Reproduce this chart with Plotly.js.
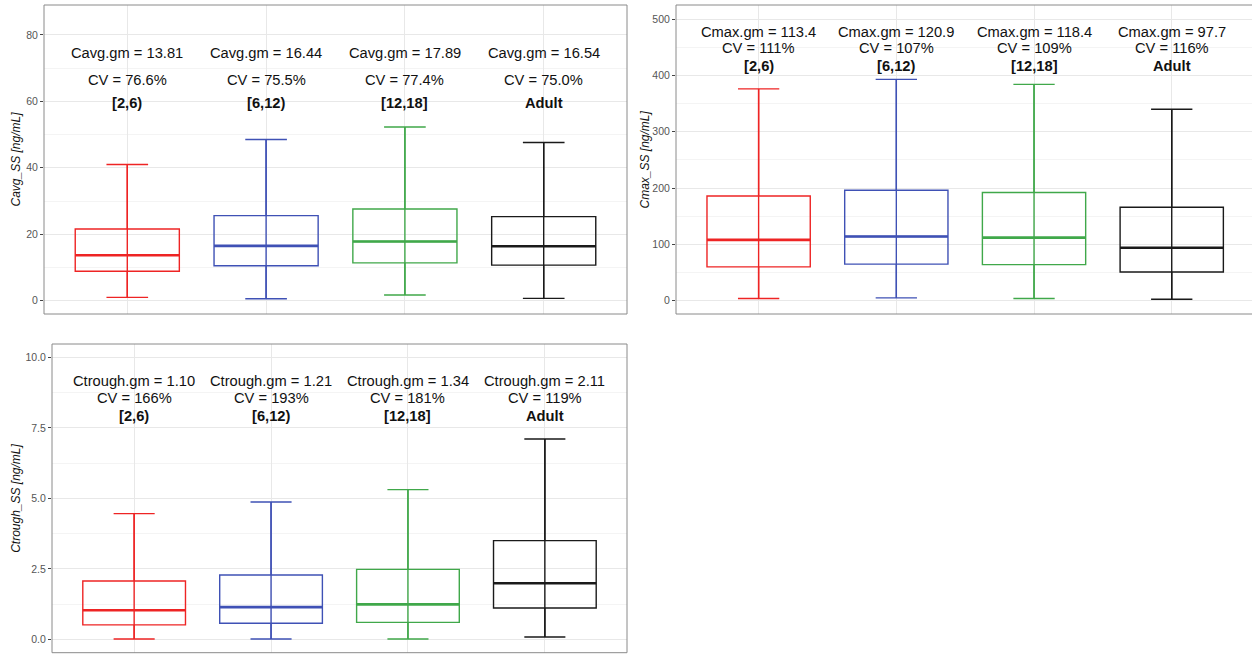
<!DOCTYPE html>
<html>
<head>
<meta charset="utf-8">
<script src="https://cdn.plot.ly/plotly-3.0.1.min.js"></script>
<style>html,body{margin:0;padding:0;background:#fff;overflow:hidden}#chart{width:1252px;height:654px}</style>
</head>
<body>
<div id="chart"></div>
<script>
// ---------- data ----------
const groups = ['[2,6)', '[6,12)', '[12,18]', 'Adult'];
const groupPos = [1, 2, 3, 4];

const cavgLow  = [1.0, 0.6, 1.7, 0.7];
const cavgQ1   = [8.85, 10.5, 11.4, 10.7];
const cavgMed  = [13.7, 16.5, 17.8, 16.4];
const cavgQ3   = [21.6, 25.6, 27.6, 25.3];
const cavgHigh = [41.0, 48.5, 52.3, 47.6];
const cavgGm   = ['13.81', '16.44', '17.89', '16.54'];
const cavgCV   = ['76.6%', '75.5%', '77.4%', '75.0%'];

const cmaxLow  = [4, 5, 4, 2.5];
const cmaxQ1   = [60, 65, 64, 51];
const cmaxMed  = [108, 114, 112, 94];
const cmaxQ3   = [186, 196, 192, 166];
const cmaxHigh = [376, 393, 384, 340];
const cmaxGm   = ['113.4', '120.9', '118.4', '97.7'];
const cmaxCV   = ['111%', '107%', '109%', '116%'];

const ctrLow   = [0.01, 0.01, 0.01, 0.08];
const ctrQ1    = [0.51, 0.57, 0.60, 1.11];
const ctrMed   = [1.03, 1.14, 1.24, 1.99];
const ctrQ3    = [2.07, 2.28, 2.48, 3.50];
const ctrHigh  = [4.46, 4.87, 5.31, 7.11];
const ctrGm    = ['1.10', '1.21', '1.34', '2.11'];
const ctrCV    = ['166%', '193%', '181%', '119%'];

// ---------- styles ----------
const colors = ['#EE2424', '#3F51B5', '#40A84A', '#1a1a1a'];
const FONT = 'Liberation Sans, Arial, Helvetica, sans-serif';
const W = 1252, H = 654;
const BOXW = 0.75;

const traces = [];
const annotations = [];

function addPanel(ax, low, q1, med, q3, high, gm, cv, prefix, textY) {
  const xa = 'x' + (ax === 1 ? '' : ax), ya = 'y' + (ax === 1 ? '' : ax);
  for (let i = 0; i < groups.length; i++) {
    traces.push({
      type: 'box', x: [groupPos[i]], q1: [q1[i]], median: [med[i]], q3: [q3[i]],
      lowerfence: [low[i]], upperfence: [high[i]], width: BOXW, whiskerwidth: 0.4,
      line: {color: colors[i], width: 1.4}, fillcolor: 'rgba(0,0,0,0)',
      boxpoints: false, xaxis: xa, yaxis: ya, showlegend: false, hoverinfo: 'skip'
    });
    traces.push({
      type: 'scatter', mode: 'lines', x: [groupPos[i], groupPos[i]], y: [low[i], high[i]],
      line: {color: colors[i], width: 1.4}, xaxis: xa, yaxis: ya, showlegend: false, hoverinfo: 'skip'
    });
    traces.push({
      type: 'scatter', mode: 'lines', x: [groupPos[i] - BOXW / 2, groupPos[i] + BOXW / 2], y: [med[i], med[i]],
      line: {color: colors[i], width: 2.6}, xaxis: xa, yaxis: ya, showlegend: false, hoverinfo: 'skip'
    });
    const lines = [prefix + '.gm = ' + gm[i], 'CV = ' + cv[i], '<b>' + groups[i] + '</b>'];
    for (let k = 0; k < 3; k++) {
      annotations.push({
        xref: xa, yref: ya, x: groupPos[i], y: textY[k], text: lines[k], showarrow: false,
        xanchor: 'center', yanchor: 'middle', font: {family: FONT, size: 14.7, color: '#111'}
      });
    }
  }
}

addPanel(1, cavgLow, cavgQ1, cavgMed, cavgQ3, cavgHigh, cavgGm, cavgCV, 'Cavg', [74.7, 66.5, 59.5]);
addPanel(2, cmaxLow, cmaxQ1, cmaxMed, cmaxQ3, cmaxHigh, cmaxGm, cmaxCV, 'Cmax', [477.6, 448, 417]);
addPanel(3, ctrLow, ctrQ1, ctrMed, ctrQ3, ctrHigh, ctrGm, ctrCV, 'Ctrough', [9.15, 8.55, 7.94]);

// panel geometry in pixels
const P1 = {l: 44, r: 627, t: 5, b: 314};
const P2 = {l: 676, r: 1252, t: 5, b: 314};
const P3 = {l: 52, r: 627, t: 344, b: 652.7};
const dx = p => [p.l / W, p.r / W];
const dy = p => [(H - p.b) / H, (H - p.t) / H];

function xaxisDef(p, rng) {
  return {domain: dx(p), range: rng, type: 'linear', showticklabels: false, ticks: '',
    tickvals: groupPos, showgrid: true, gridcolor: '#e8e8e8', gridwidth: 1,
    zeroline: false, showline: false, fixedrange: true};
}
function yaxisDef(p, rng, dtick, minor, fmt) {
  return {domain: dy(p), range: rng, dtick: dtick, tick0: 0, tickformat: fmt,
    ticks: 'outside', ticklen: 3, tickcolor: '#444', tickwidth: 1,
    tickfont: {family: FONT, size: 10.5, color: '#555'},
    showgrid: true, gridcolor: '#e8e8e8', gridwidth: 1,
    minor: {dtick: minor, tick0: 0, showgrid: true, gridcolor: '#f4f4f4', gridwidth: 1, ticks: ''},
    zeroline: false, showline: false, fixedrange: true};
}

const layout = {
  width: W, height: H, margin: {l: 0, r: 0, t: 0, b: 0},
  paper_bgcolor: '#fff', plot_bgcolor: '#fff', showlegend: false, boxmode: 'overlay',
  xaxis: xaxisDef(P1, [0.4, 4.6]),
  yaxis: Object.assign(yaxisDef(P1, [-4.0, 89], 20, 10, 'd'), {anchor: 'x'}),
  xaxis2: Object.assign(xaxisDef(P2, [0.4, 0.4 + (1252 - 675.6) / 137.8]), {anchor: 'y2'}),
  yaxis2: Object.assign(yaxisDef(P2, [-23.6, 525], 100, 50, 'd'), {anchor: 'x2'}),
  xaxis3: Object.assign(xaxisDef(P3, [0.4, 4.6]), {anchor: 'y3'}),
  yaxis3: Object.assign(yaxisDef(P3, [-0.476, 10.48], 2.5, 1.25, '.1f'), {anchor: 'x3'}),
  annotations: annotations.concat([
    {xref: 'paper', yref: 'paper', x: 16 / W, y: (H - (P1.t + P1.b) / 2) / H, textangle: -90,
     text: '<i>Cavg_SS [ng/mL]</i>', showarrow: false, xanchor: 'center', yanchor: 'middle',
     font: {family: FONT, size: 12, color: '#111'}},
    {xref: 'paper', yref: 'paper', x: 645 / W, y: (H - (P2.t + P2.b) / 2) / H, textangle: -90,
     text: '<i>Cmax_SS [ng/mL]</i>', showarrow: false, xanchor: 'center', yanchor: 'middle',
     font: {family: FONT, size: 12, color: '#111'}},
    {xref: 'paper', yref: 'paper', x: 16.5 / W, y: (H - (P3.t + P3.b) / 2) / H, textangle: -90,
     text: '<i>Ctrough_SS [ng/mL]</i>', showarrow: false, xanchor: 'center', yanchor: 'middle',
     font: {family: FONT, size: 12, color: '#111'}}
  ]),
  shapes: [P1, P2, P3].map((p, i) => ({
    type: 'rect', xref: 'paper', yref: 'paper', layer: 'above',
    x0: p.l / W, x1: i === 1 ? 1.01 : p.r / W, y0: (H - p.b) / H, y1: (H - p.t) / H,
    line: {color: '#8a8a8a', width: 1}, fillcolor: 'rgba(0,0,0,0)'
  }))
};

Plotly.newPlot('chart', traces, layout, {staticPlot: true, displayModeBar: false});
</script>
</body>
</html>
